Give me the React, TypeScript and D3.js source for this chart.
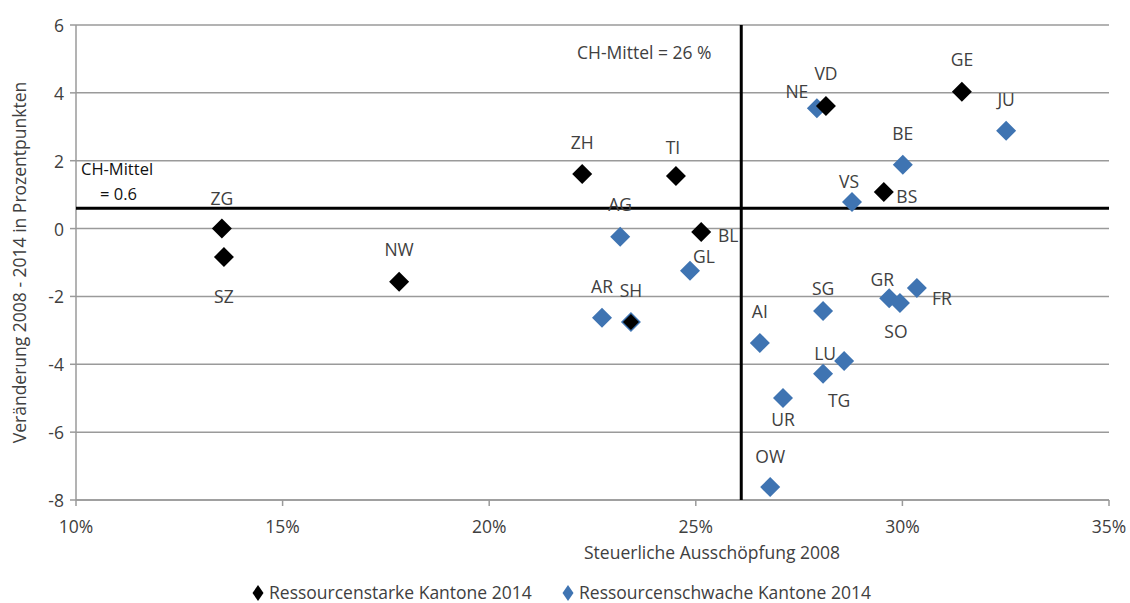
import React from "react";
import * as d3 from "d3";

const strongNames = ["ZG", "SZ", "NW", "ZH", "TI", "BL", "VD", "GE", "BS", "SH"];
const strongX = [13.53, 13.58, 17.82, 22.25, 24.52, 25.13, 28.15, 31.44, 29.55, 23.43];
const strongY = [0.0, -0.84, -1.57, 1.61, 1.55, -0.1, 3.61, 4.03, 1.08, -2.75];

const weakNames = ["NE", "JU", "BE", "VS", "AG", "GL", "AR", "SH", "AI", "SG", "GR", "SO", "FR", "LU", "TG", "UR", "OW"];
const weakX = [27.93, 32.51, 30.01, 28.78, 23.17, 24.86, 22.73, 23.43, 26.55, 28.08, 29.68, 29.94, 30.35, 28.59, 28.08, 27.11, 26.8];
const weakY = [3.55, 2.88, 1.88, 0.78, -0.24, -1.24, -2.63, -2.75, -3.37, -2.43, -2.05, -2.19, -1.75, -3.9, -4.28, -4.99, -7.62];

const xTicks = [10, 15, 20, 25, 30, 35];
const yTicks = [6, 4, 2, 0, -2, -4, -6, -8];
const meanX = 26.1;
const meanY = 0.6;

// label offsets [dx, dy] per canton label (center relative to marker)
const labelOffsets: Record<string, [number, number]> = {
  ZG: [0, -31], SZ: [0, 39], NW: [0, -33], ZH: [0, -32], TI: [-3, -29], BL: [27, 3],
  VD: [0, -33], GE: [0, -33], BS: [23, 4], SH: [0, -32],
  NE: [-20, -17], JU: [0, -32], BE: [0, -32], VS: [-3, -21], AG: [0, -33], GL: [14, -15],
  AR: [0, -32], AI: [0, -32], SG: [0, -23], GR: [-7, -19], SO: [-4, 28], FR: [25, 10],
  LU: [-19, -8], TG: [16, 26], UR: [0, 21], OW: [0, -31],
};

const BLUE = "#3F74B2";
const GRID = "#9a9a9a";
const TEXT = "#404040";
const FONT = "'Open Sans', 'Noto Sans', sans-serif";
const FS = 17.5;

function diamond(cx: number, cy: number, r: number, rx?: number) {
  const w = rx ?? r;
  return `M${cx},${cy - r}L${cx + w},${cy}L${cx},${cy + r}L${cx - w},${cy}Z`;
}

export default function App() {
  const W = 1130, H = 603;
  const x = d3.scaleLinear().domain([10, 35]).range([76, 1109]);
  const y = d3.scaleLinear().domain([-8, 6]).range([500, 25]);

  const labels: React.ReactNode[] = [];
  const seen = new Set<string>();
  const addLabel = (n: string, vx: number, vy: number) => {
    if (seen.has(n)) return;
    seen.add(n);
    const [dx, dy] = labelOffsets[n] || [0, -30];
    labels.push(
      <text key={"l" + n} x={x(vx) + dx} y={y(vy) + dy} textAnchor="middle" dominantBaseline="central"
        fontSize={FS} fill={TEXT} fontFamily={FONT}>{n}</text>
    );
  };
  strongNames.forEach((n, i) => addLabel(n, strongX[i], strongY[i]));
  weakNames.forEach((n, i) => addLabel(n, weakX[i], weakY[i]));

  return (
    <svg width={W} height={H} style={{ position: "absolute", left: 0, top: 0, background: "#fff" }}>
      {/* gridlines */}
      {yTicks.map((t) => (
        <line key={"g" + t} x1={x(10)} x2={x(35)} y1={y(t)} y2={y(t)} stroke={GRID} strokeWidth={1.5} />
      ))}
      {/* y axis */}
      <line x1={x(10)} x2={x(10)} y1={y(6)} y2={y(-8)} stroke={GRID} strokeWidth={1.5} />
      {yTicks.map((t) => (
        <g key={"yt" + t}>
          <line x1={x(10) - 6} x2={x(10)} y1={y(t)} y2={y(t)} stroke={GRID} strokeWidth={1.5} />
          <text x={x(10) - 12} y={y(t)} textAnchor="end" dominantBaseline="central" fontSize={FS} fill={TEXT} fontFamily={FONT}>{t}</text>
        </g>
      ))}
      {/* x axis */}
      <line x1={x(10)} x2={x(35)} y1={y(-8)} y2={y(-8)} stroke={GRID} strokeWidth={1.5} />
      {xTicks.map((t) => (
        <g key={"xt" + t}>
          <line x1={x(t)} x2={x(t)} y1={y(-8)} y2={y(-8) + 6} stroke={GRID} strokeWidth={1.5} />
          <text x={x(t)} y={y(-8) + 26} textAnchor="middle" dominantBaseline="central" fontSize={FS} fill={TEXT} fontFamily={FONT}>{t}%</text>
        </g>
      ))}
      {/* mean lines */}
      <line x1={x(10)} x2={x(35)} y1={y(meanY)} y2={y(meanY)} stroke="#000" strokeWidth={3} />
      <line x1={x(meanX)} x2={x(meanX)} y1={y(6)} y2={y(-8)} stroke="#000" strokeWidth={3} />
      <text x={x(meanX) - 97} y={52} textAnchor="middle" dominantBaseline="central" fontSize={FS} fill={TEXT} fontFamily={FONT}>CH-Mittel = 26 %</text>
      <text x={81} y={168} dominantBaseline="central" fontSize={16.5} fill="#111" fontFamily={FONT}>CH-Mittel</text>
      <text x={100} y={193} dominantBaseline="central" fontSize={16.5} fill="#111" fontFamily={FONT}>= 0.6</text>
      {/* weak (blue) */}
      {weakNames.map((n, i) => (
        <path key={"w" + n} d={diamond(x(weakX[i]), y(weakY[i]), 10)} fill={BLUE} />
      ))}
      {/* strong (black) */}
      {strongNames.map((n, i) => (
        <path key={"s" + n} d={diamond(x(strongX[i]), y(strongY[i]), n === "SH" ? 8 : 10)} fill="#000" />
      ))}
      {labels}
      {/* axis titles */}
      <text transform={`translate(19, ${y(-1)}) rotate(-90)`} textAnchor="middle" dominantBaseline="central" fontSize={FS} fill={TEXT} fontFamily={FONT}>
        Veränderung 2008 - 2014 in Prozentpunkten
      </text>
      <text x={712} y={552} textAnchor="middle" dominantBaseline="central" fontSize={FS} fill={TEXT} fontFamily={FONT}>Steuerliche Ausschöpfung 2008</text>
      {/* legend */}
      <path d={diamond(258, 593, 8, 5.5)} fill="#000" />
      <text x={269} y={592} dominantBaseline="central" fontSize={FS} fill={TEXT} fontFamily={FONT}>Ressourcenstarke Kantone 2014</text>
      <path d={diamond(568, 593, 8, 5.5)} fill={BLUE} />
      <text x={579} y={592} dominantBaseline="central" fontSize={FS} fill={TEXT} fontFamily={FONT}>Ressourcenschwache Kantone 2014</text>
    </svg>
  );
}
